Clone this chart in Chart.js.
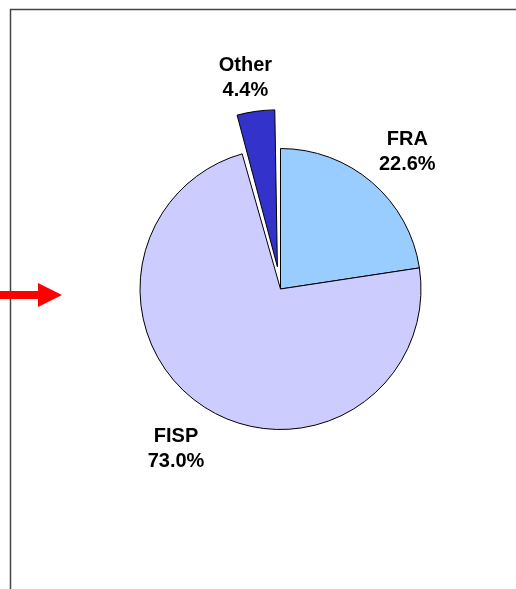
<!DOCTYPE html>
<html>
<head>
<meta charset="utf-8">
<title>Pie</title>
<script src="https://cdn.jsdelivr.net/npm/chart.js@4"></script>
<style>
    html, body { margin: 0; padding: 0; background: #fff; }
    #wrap { position: relative; width: 516px; height: 589px; }
</style>
</head>
<body>
<div id="wrap"><canvas id="pieChart" width="516" height="589"></canvas></div>
<script>
// Datos del gráfico
const categories = ['FRA', 'FISP', 'Other'];
const shares = [22.6, 73.0, 4.4];
const sliceColors = ['#99CCFF', '#CCCCFF', '#3333CC'];
const sliceOffsets = [0, 0, 90];

// Marco y flecha roja de la diapositiva
const framePlugin = {
    id: 'frame',
    afterDraw(chart) {
        const ctx = chart.ctx;
        ctx.save();
        ctx.strokeStyle = '#444';
        ctx.lineWidth = 1.5;
        ctx.beginPath();
        ctx.moveTo(10.5, 600);
        ctx.lineTo(10.5, 9.5);
        ctx.lineTo(520, 9.5);
        ctx.stroke();

        ctx.fillStyle = '#FF0000';
        ctx.beginPath();
        ctx.moveTo(0, 291);
        ctx.lineTo(38, 291);
        ctx.lineTo(38, 283);
        ctx.lineTo(62, 295);
        ctx.lineTo(38, 307);
        ctx.lineTo(38, 299);
        ctx.lineTo(0, 299);
        ctx.closePath();
        ctx.fill();
        ctx.restore();
    }
};

// Etiquetas fuera de cada porción
const labelPlugin = {
    id: 'sliceLabels',
    afterDatasetsDraw(chart) {
        const ctx = chart.ctx;
        const meta = chart.getDatasetMeta(0);
        const lineH = 25;
        ctx.save();
        ctx.font = 'bold 20px "Liberation Sans", Arial, sans-serif';
        ctx.fillStyle = '#000';
        ctx.textAlign = 'center';
        ctx.textBaseline = 'middle';
        meta.data.forEach((arc, i) => {
            const p = arc.getProps(['x', 'y', 'startAngle', 'endAngle', 'outerRadius', 'circumference']);
            const mid = (p.startAngle + p.endAngle) / 2;
            const cos = Math.cos(mid), sin = Math.sin(mid);
            // desplazamiento de la porción separada (igual que ArcElement.draw)
            const off = (sliceOffsets[i] || 0) / 4;
            const fix = 1 - Math.sin(Math.min(Math.PI, p.circumference || 0));
            const shift = off + off * fix;
            const cx = p.x + cos * shift;
            const cy = p.y + sin * shift;

            const lines = [categories[i], shares[i].toFixed(1) + '%'];
            const w = Math.max(...lines.map(t => ctx.measureText(t).width));
            const h = lineH * 2 - 4;
            const ext = Math.min(
                Math.abs(cos) > 1e-3 ? (w / 2) / Math.abs(cos) : Infinity,
                Math.abs(sin) > 1e-3 ? (h / 2) / Math.abs(sin) : Infinity
            );
            const d = p.outerRadius + 16 + ext;
            const lx = cx + cos * d + Math.sign(cos) * 5;
            const ly = cy + sin * d + 5;
            ctx.fillText(lines[0], lx, ly - lineH / 2);
            ctx.fillText(lines[1], lx, ly + lineH / 2);
        });
        ctx.restore();
    }
};

new Chart(document.getElementById('pieChart'), {
    type: 'pie',
    data: {
        labels: categories,
        datasets: [{
            data: shares,
            backgroundColor: sliceColors,
            borderColor: '#000',
            borderWidth: 1,
            offset: sliceOffsets,
            hoverOffset: 0
        }]
    },
    options: {
        responsive: false,
        animation: false,
        radius: 140.5,
        layout: { padding: { left: 100, right: 55, top: 60, bottom: 71 } },
        plugins: {
            legend: { display: false },
            tooltip: { enabled: false }
        }
    },
    plugins: [labelPlugin, framePlugin]
});
</script>
</body>
</html>
